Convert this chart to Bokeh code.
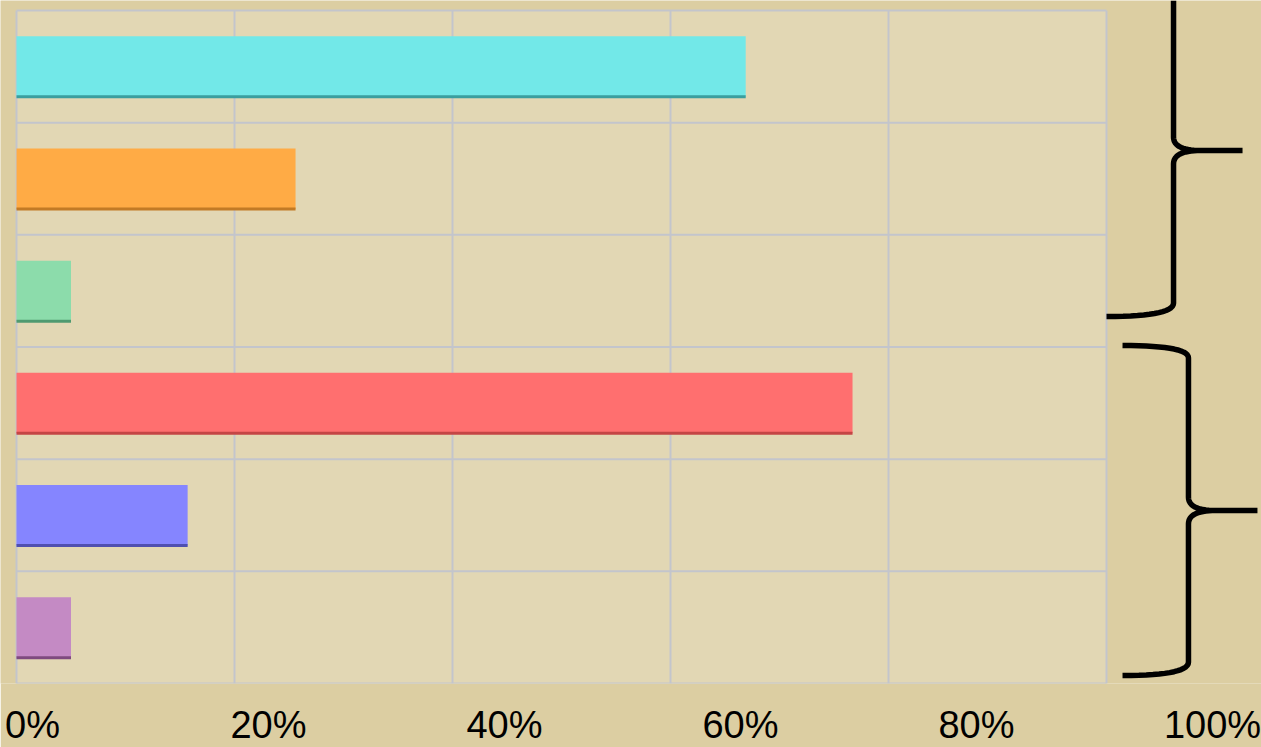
import numpy as np
from bokeh.plotting import figure
from bokeh.models import Range1d, LinearAxis, FixedTicker, ColumnDataSource
from bokeh.embed import file_html
from bokeh.resources import INLINE

# ---- data ----
rows = [0, 1, 2, 3, 4, 5]
values = [66.9, 25.6, 5.0, 76.7, 15.7, 5.0]
tick_values = [0, 20, 40, 60, 80, 100]
tick_labels = ["0%", "20%", "40%", "60%", "80%", "100%"]
row_lines = [0, 1, 2, 3, 4, 5, 6]

# ---- styles ----
bar_colors = ["#72e8e8", "#ffab45", "#8cdcab", "#ff6f6f", "#8585ff", "#c48ac4"]
shade_colors = ["#3a9e9e", "#c27a25", "#4f9a70", "#c44545", "#4f4fb0", "#7f4a7f"]
BG = "#dccea2"
INNER = "#e4d9b9"
GRID = "#c3c5cc"
BAR_H = 0.54

p = figure(
    frame_width=1261, frame_height=683,
    x_range=Range1d(-16 / 10.9, 1245 / 10.9),
    y_range=Range1d(6, -10 / 112.17),
    x_axis_location=None, y_axis_location=None,
    toolbar_location=None, output_backend="svg",
    min_border_left=0, min_border_right=0, min_border_top=0, min_border_bottom=64,
)
p.grid.visible = False
p.outline_line_color = None
p.background_fill_color = BG
p.border_fill_color = BG

# plot area
p.quad(left=[min(tick_values)], right=[max(tick_values)], top=[min(row_lines)],
       bottom=[max(row_lines)], fill_color=INNER, fill_alpha=0.8, line_color=None)

# grid lines
p.segment(x0=tick_values, x1=tick_values, y0=[min(row_lines)] * len(tick_values),
          y1=[max(row_lines)] * len(tick_values), line_color=GRID, line_width=2)
p.segment(x0=[min(tick_values)] * len(row_lines), x1=[max(tick_values)] * len(row_lines),
          y0=row_lines, y1=row_lines, line_color=GRID, line_width=2)

# bars
src = ColumnDataSource(dict(
    y=[r + 0.5 for r in rows], v=values, c=bar_colors, s=shade_colors,
    yb=[r + 0.5 + BAR_H / 2 for r in rows], z=[0] * len(rows),
))
p.hbar(y="y", left="z", right="v", height=BAR_H, fill_color="c", line_color=None, source=src)
p.segment(x0="z", x1="v", y0="yb", y1="yb", line_color="s", line_width=3, source=src)


# braces (decoration)
def qb(p0, c, p1, n=16):
    t = np.linspace(0, 1, n)
    x = (1 - t) ** 2 * p0[0] + 2 * (1 - t) * t * c[0] + t ** 2 * p1[0]
    y = (1 - t) ** 2 * p0[1] + 2 * (1 - t) * t * c[1] + t ** 2 * p1[1]
    return list(x), list(y)


def brace(s, t, m, top, bot, end_top=None, end_bot=None):
    xs, ys = [], []
    if end_top is None:
        xs += [s]; ys += [top]
    else:
        a, b = qb((end_top, top), (s, top), (s, top + 0.11))
        xs += a; ys += b
    xs += [s]; ys += [m - 0.12]
    a, b = qb((s, m - 0.12), (s, m), (s + 2.5, m))
    xs += a; ys += b
    xs += [t, s + 2.5]; ys += [m, m]
    a, b = qb((s + 2.5, m), (s, m), (s, m + 0.12))
    xs += a; ys += b
    xs += [s]; ys += [bot - 0.12]
    a, b = qb((s, bot - 0.12), (s, bot), (end_bot, bot))
    xs += a; ys += b
    p.line(xs, ys, line_color="black", line_width=5.5)


brace(106.15, 112.48, 1.248, -0.09, 2.728, None, 100.0)
brace(107.52, 113.85, 4.458, 2.987, 5.929, 101.47, 101.47)

# bottom labels
p.extra_x_ranges = {"lab": Range1d(-32 / 11.8, 1229 / 11.8)}
ax = LinearAxis(x_range_name="lab", ticker=FixedTicker(ticks=tick_values))
ax.major_label_overrides = {v: l for v, l in zip(tick_values, tick_labels)}
ax.axis_line_color = None
ax.major_tick_line_color = None
ax.minor_tick_line_color = None
ax.major_label_standoff = 14
ax.major_label_text_font = "Liberation Sans"
ax.major_label_text_font_size = "38px"
ax.major_label_text_color = "black"
p.add_layout(ax, "below")

open("out.html", "w").write(file_html(p, INLINE))
